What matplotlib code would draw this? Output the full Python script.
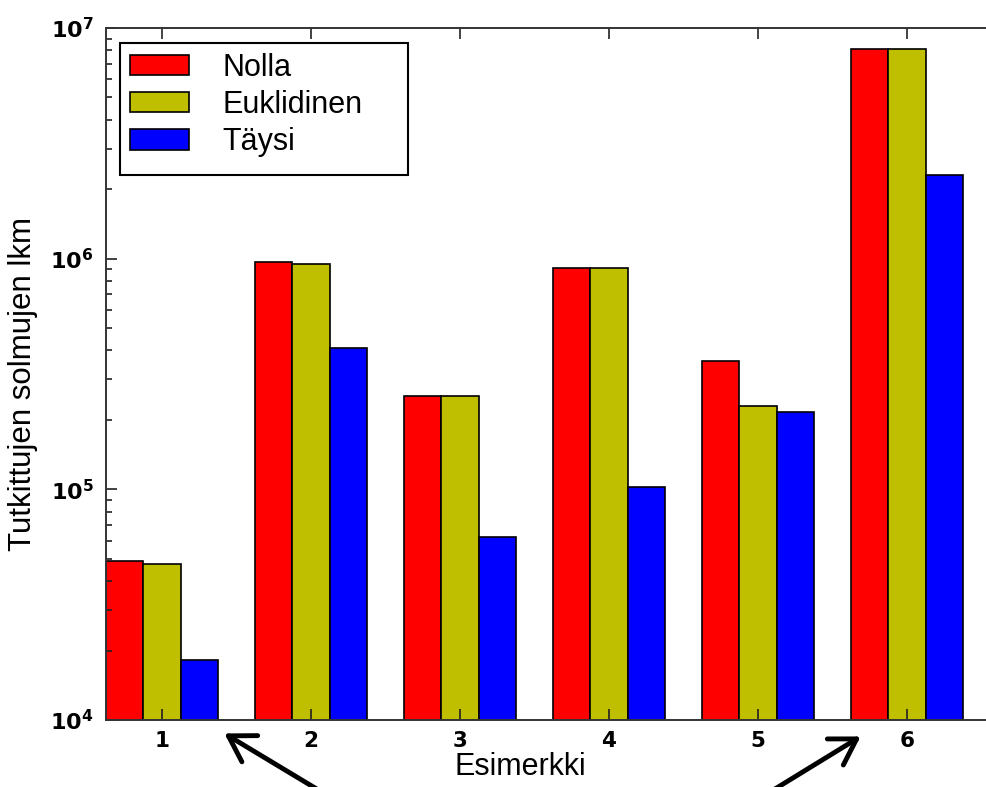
import numpy as np
import matplotlib
matplotlib.use('Agg')
import matplotlib.pyplot as plt
from matplotlib.ticker import FixedLocator, FuncFormatter, LogLocator, NullFormatter
from matplotlib.patches import Rectangle, FancyArrowPatch

# data
esimerkit = [1, 2, 3, 4, 5, 6]
nolla = [4.9e4, 9.7e5, 2.54e5, 9.1e5, 3.6e5, 8.1e6]
euklidinen = [4.75e4, 9.5e5, 2.54e5, 9.1e5, 2.3e5, 8.1e6]
taysi = [1.82e4, 4.1e5, 6.2e4, 1.02e5, 2.17e5, 2.3e6]
nimet = ['Nolla', 'Euklidinen', 'Täysi']
varit = ['#ff0000', '#bfbf00', '#0000ff']

W, H = 986, 787
fig = plt.figure(figsize=(W / 100, H / 100), dpi=100)


def fx(px):
    return px / W


def fy(py):
    return 1 - py / H


# axes wider than the figure: right part is cut off as in the original
ax = fig.add_axes([fx(106), fy(720), fx(894), 692 / H])

x = np.array(esimerkit, dtype=float)
w = 0.25
sarjat = [nolla, euklidinen, taysi]
palkit = []
for k, (arvot, vari) in enumerate(zip(sarjat, varit)):
    b = ax.bar(x + (k - 1) * w, arvot, w, bottom=0, color=vari,
               edgecolor='black', linewidth=1.2, label=nimet[k])
    palkit.append(b)

ax.set_yscale('log')
ax.set_ylim(1e4, 1e7)
ax.set_xlim(0.625, 6.625)
ax.xaxis.set_major_locator(FixedLocator(esimerkit))
ax.yaxis.set_major_locator(LogLocator(base=10, numticks=10))
ax.yaxis.set_minor_locator(LogLocator(base=10, subs=np.arange(2, 10), numticks=10))
ax.yaxis.set_minor_formatter(NullFormatter())
ax.yaxis.set_major_formatter(FuncFormatter(lambda v, p: r'$\mathbf{10^{%d}}$' % round(np.log10(v))))

ax.tick_params(which='both', direction='in', top=True, right=True, width=1.2, color='#222222')
ax.tick_params(which='major', length=8)
ax.tick_params(which='minor', length=4)
ax.tick_params(axis='x', pad=8, labelsize=15.5)
ax.tick_params(axis='y', pad=9, labelsize=16)
for t in ax.get_xticklabels():
    t.set_fontweight('bold')
for s in ax.spines.values():
    s.set_linewidth(1.4)
    s.set_color('#333333')

arial = ['Liberation Sans', 'DejaVu Sans']
fig.text(fx(23), fy(384), 'Tutkittujen solmujen lkm', rotation=90,
         ha='center', va='center', fontsize=22.5, family=arial)
fig.text(fx(520), fy(775), 'Esimerkki', ha='center', va='baseline',
         fontsize=22, family=arial)

# legend
leg = ax.legend(handles=palkit, loc='upper left', frameon=False,
                bbox_to_anchor=(fx(130), fy(53)), bbox_transform=fig.transFigure,
                borderpad=0, borderaxespad=0, prop={'family': arial, 'size': 22},
                handlelength=1.93, handleheight=0.65, handletextpad=1.1,
                labelspacing=0.23)
fig.patches.append(Rectangle((fx(120), fy(175)), fx(288), (175 - 43) / H,
                             transform=fig.transFigure, fill=False,
                             edgecolor='black', linewidth=1.5, zorder=5))

# arrows pointing at examples 1 and 6
for karki, hanta in [((222, 732), (335, 800)), ((863, 735), (757, 800))]:
    fig.patches.append(FancyArrowPatch(
        (fx(hanta[0]), fy(hanta[1])), (fx(karki[0]), fy(karki[1])),
        transform=fig.transFigure, arrowstyle='->,head_length=0.9,head_width=0.55',
        color='black', linewidth=3.5, mutation_scale=20, zorder=6))

fig.savefig('out.png', dpi=100)
